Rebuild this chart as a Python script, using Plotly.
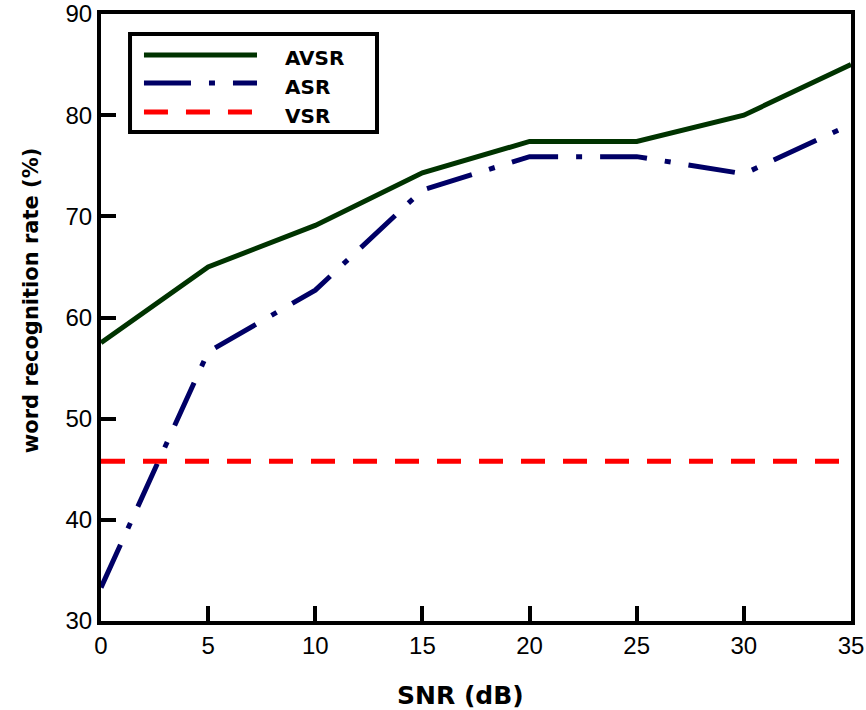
import plotly.graph_objects as go

# ---- data ----
snr = [0, 5, 10, 15, 20, 25, 30, 35]
avsr = [57.5, 65.0, 69.1, 74.3, 77.4, 77.4, 80.0, 85.0]
asr = [33.3, 56.6, 62.7, 72.6, 75.9, 75.9, 74.2, 79.1]
vsr = [45.8, 45.8, 45.8, 45.8, 45.8, 45.8, 45.8, 45.8]

x_ticks = [0, 5, 10, 15, 20, 25, 30, 35]
y_ticks = [30, 40, 50, 60, 70, 80, 90]

series_names = ["AVSR", "ASR", "VSR"]
series_values = [avsr, asr, vsr]
series_colors = ["#003300", "#000066", "#ff0000"]
series_dash = ["solid", "47px,18px,6px,18px", "24px,18px"]

fig = go.Figure()
for name, vals, col, dash in zip(series_names, series_values, series_colors, series_dash):
    fig.add_trace(go.Scatter(x=snr, y=vals, mode="lines", name=name,
                             line=dict(color=col, width=5, dash=dash),
                             showlegend=False))

# ---- manual legend (box, sample lines, labels) in paper coordinates ----
shapes = [dict(type="rect", xref="paper", yref="paper",
               x0=0.0387, x1=0.368, y0=0.8056, y1=0.967,
               line=dict(color="black", width=4), fillcolor="white", layer="above")]
annotations = []
leg_line_y = [0.9325, 0.8863, 0.8386]
leg_text_y = [0.9275, 0.8797, 0.832]
for i, name in enumerate(series_names):
    shapes.append(dict(type="line", xref="paper", yref="paper",
                       x0=0.0573, x1=0.208, y0=leg_line_y[i], y1=leg_line_y[i],
                       line=dict(color=series_colors[i], width=5, dash=series_dash[i]),
                       layer="above"))
    annotations.append(dict(xref="paper", yref="paper", x=0.2427, y=leg_text_y[i],
                            text=name, showarrow=False, xanchor="left", yanchor="middle",
                            font=dict(family="DejaVu Sans", size=20, color="black",
                                      weight="bold")))

# axis titles
annotations.append(dict(xref="paper", yref="paper", x=-0.0933, y=0.527,
                        text="word recognition rate (%)", showarrow=False, textangle=-90,
                        xanchor="center", yanchor="middle",
                        font=dict(family="DejaVu Sans", size=21, color="black", weight="bold")))
annotations.append(dict(xref="paper", yref="paper", x=0.4787, y=-0.122,
                        text="SNR (dB)", showarrow=False,
                        xanchor="center", yanchor="middle",
                        font=dict(family="DejaVu Sans", size=25, color="black", weight="bold")))

axis_common = dict(showgrid=False, zeroline=False, showline=True, linecolor="black",
                   linewidth=4, mirror=True, ticks="inside", ticklen=15, tickwidth=4,
                   tickcolor="black", automargin=False,
                   tickfont=dict(family="Liberation Sans, Arial", size=24, color="black"))

fig.update_layout(
    width=866, height=710,
    margin=dict(l=101, r=15, t=14, b=89, autoexpand=False),
    paper_bgcolor="white", plot_bgcolor="white",
    xaxis=dict(range=[0, 35], tickvals=x_ticks, ticktext=[str(v) for v in x_ticks],
               **axis_common),
    yaxis=dict(range=[30, 90], tickvals=y_ticks, ticktext=[str(v) for v in y_ticks],
               **axis_common),
    shapes=shapes, annotations=annotations,
)

fig.write_html("out.html", config={"displayModeBar": False},
               post_script="document.body.style.margin='0';document.body.style.padding='0';"
                           "document.body.style.overflow='hidden';")
